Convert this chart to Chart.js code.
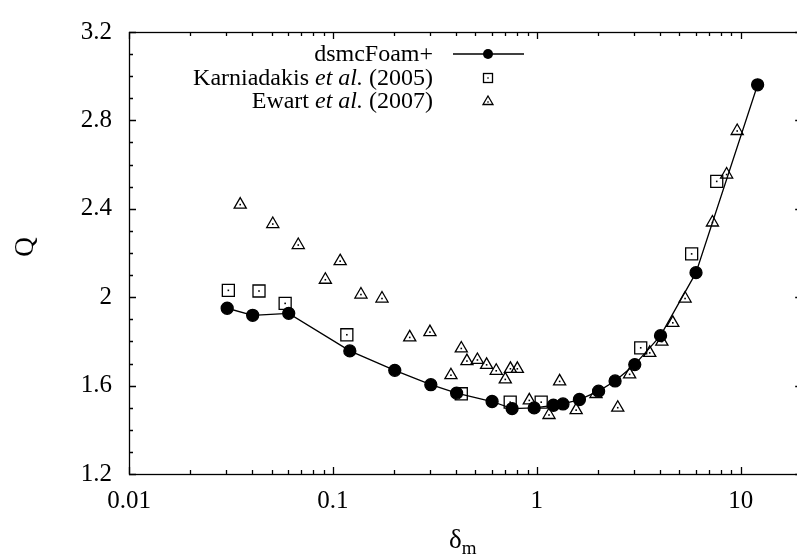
<!DOCTYPE html>
<html><head><meta charset="utf-8">
<script src="https://cdn.jsdelivr.net/npm/chart.js@4"></script>
<style>
html,body{margin:0;padding:0;overflow:hidden;background:#fff;width:797px;height:556px}
#c{position:absolute;left:0;top:0;display:block}
</style>
</head><body><canvas id="c" width="812" height="556" style="width:812px;height:556px"></canvas>
<script>
// ---- data ----
const dsmcX = [0.0303, 0.0404, 0.0607, 0.121, 0.201, 0.302, 0.404, 0.603, 0.756, 0.97, 1.205, 1.343, 1.617, 2.007, 2.418, 3.02, 4.04, 6.03, 12.09];
const dsmcQ = [1.950, 1.918, 1.927, 1.757, 1.669, 1.604, 1.566, 1.528, 1.496, 1.499, 1.511, 1.517, 1.537, 1.575, 1.621, 1.695, 1.826, 2.111, 2.961];

const karnX = [0.0307, 0.0434, 0.0583, 0.117, 0.426, 0.74, 1.05, 3.23, 5.74, 7.62];
const karnQ = [2.031, 2.028, 1.972, 1.830, 1.563, 1.525, 1.525, 1.771, 2.196, 2.524];

const ewartX = [0.0351, 0.0507, 0.0676, 0.0918, 0.1085, 0.1372, 0.174, 0.238, 0.299, 0.379, 0.426, 0.454, 0.511, 0.567, 0.632, 0.70, 0.742, 0.802, 0.918, 1.147, 1.293, 1.558, 1.949, 2.492, 2.85, 3.576, 4.10, 4.64, 5.33, 7.26, 8.52, 9.60];
const ewartQ = [2.419, 2.331, 2.236, 2.079, 2.163, 2.012, 1.994, 1.818, 1.842, 1.647, 1.768, 1.711, 1.716, 1.694, 1.667, 1.628, 1.676, 1.676, 1.533, 1.467, 1.619, 1.489, 1.562, 1.500, 1.651, 1.748, 1.799, 1.884, 1.994, 2.338, 2.555, 2.752];

const xTickValues = [0.01, 0.1, 1, 10];
const xTickLabels = ['0.01', '0.1', '1', '10'];
const yTickValues = [1.2, 1.6, 2, 2.4, 2.8, 3.2];
const yTickLabels = ['1.2', '1.6', '2', '2.4', '2.8', '3.2'];
const seriesNames = ['dsmcFoam+', 'Karniadakis', 'Ewart'];
const seriesRefs = ['', ' (2005)', ' (2007)'];
const xTitle = ['δ', 'm'];
const yTitle = 'Q';

const FONT = '"Liberation Serif", "DejaVu Serif", serif';
const pts = (xs, ys) => xs.map((x, i) => ({x: x, y: ys[i]}));

const framePlugin = {
  id: 'frame',
  afterDatasetsDraw(chart) {
    const ctx = chart.ctx, a = chart.chartArea;
    const xs = chart.scales.x, ys = chart.scales.y;
    ctx.save();
    ctx.strokeStyle = '#000';
    ctx.lineWidth = 1.3;
    ctx.beginPath();
    for (const d of [0.01, 0.1, 1, 10]) {
      for (let m = 1; m <= 9; m++) {
        const v = d * m;
        if (v > xs.max) continue;
        const px = Math.round(xs.getPixelForValue(v)) + 0.5;
        const len = m === 1 ? 7 : 4;
        ctx.moveTo(px, a.bottom); ctx.lineTo(px, a.bottom - len);
        ctx.moveTo(px, a.top); ctx.lineTo(px, a.top + len);
      }
    }
    for (let k = 12; k <= 32; k++) {
      const py = Math.round(ys.getPixelForValue(k / 10)) + 0.5;
      const len = (k % 4 === 0) ? 7 : 4;
      ctx.moveTo(a.left, py); ctx.lineTo(a.left + len, py);
      ctx.moveTo(a.right, py); ctx.lineTo(a.right - len, py);
    }
    ctx.stroke();
    ctx.strokeRect(Math.round(a.left) + 0.5, Math.round(a.top) + 0.5, Math.round(a.right - a.left), Math.round(a.bottom - a.top));

    ctx.fillStyle = '#000';
    for (const i of [1, 2]) {
      chart.getDatasetMeta(i).data.forEach(p => ctx.fillRect(p.x - 0.8, p.y - 0.8, 1.6, 1.6));
    }

    ctx.textBaseline = 'alphabetic';
    ctx.textAlign = 'left';
    ctx.font = '27px ' + FONT;
    const w1 = ctx.measureText(xTitle[0]).width;
    ctx.fillText(xTitle[0], 449, 548);
    ctx.font = '19px ' + FONT;
    ctx.fillText(xTitle[1], 449 + w1, 554);
    ctx.save();
    ctx.translate(33, 247);
    ctx.rotate(-Math.PI / 2);
    ctx.textAlign = 'center';
    ctx.font = '27px ' + FONT;
    ctx.fillText(yTitle, 0, 0);
    ctx.restore();

    const right = 433, sx0 = 453, sx1 = 524, mx = 488;
    const rows = [54, 78, 101];
    ctx.textBaseline = 'middle';
    for (let r = 0; r < 3; r++) {
      const y = rows[r] + 1;
      let segs;
      if (r === 0) segs = [[seriesNames[0], false]];
      else segs = [[seriesNames[r] + ' ', false], ['et al.', true], [seriesRefs[r], false]];
      let total = 0;
      const widths = segs.map(s => { ctx.font = (s[1] ? 'italic ' : '') + '24px ' + FONT; const w = ctx.measureText(s[0]).width; total += w; return w; });
      let x = right - total;
      ctx.textAlign = 'left';
      segs.forEach((s, i) => { ctx.font = (s[1] ? 'italic ' : '') + '24px ' + FONT; ctx.fillText(s[0], x, y); x += widths[i]; });
      const yy = rows[r];
      ctx.lineWidth = 1.3;
      if (r === 0) {
        ctx.beginPath(); ctx.moveTo(sx0, yy); ctx.lineTo(sx1, yy); ctx.stroke();
        ctx.beginPath(); ctx.arc(mx, yy, 5, 0, Math.PI * 2); ctx.fill();
      } else if (r === 1) {
        ctx.strokeRect(mx - 4.5, yy - 4.5, 9, 9);
        ctx.fillRect(mx - 0.7, yy - 0.7, 1.4, 1.4);
      } else {
        ctx.beginPath();
        ctx.moveTo(mx, yy - 5); ctx.lineTo(mx + 5, yy + 3.5); ctx.lineTo(mx - 5, yy + 3.5); ctx.closePath(); ctx.stroke();
        ctx.fillRect(mx - 0.7, yy + 0.3, 1.4, 1.4);
      }
    }
    ctx.restore();
  }
};

new Chart(document.getElementById('c'), {
  type: 'scatter',
  data: {
    datasets: [
      {label: seriesNames[0], data: pts(dsmcX, dsmcQ), showLine: true, borderColor: '#000', borderWidth: 1.3,
       pointStyle: 'circle', pointRadius: 6, backgroundColor: '#000', pointBackgroundColor: '#000', pointBorderColor: '#000', order: 3},
      {label: seriesNames[1], data: pts(karnX, karnQ), pointStyle: 'rect', pointRadius: 8.5, pointBorderWidth: 1.3,
       pointBorderColor: '#000', pointBackgroundColor: 'rgba(0,0,0,0)', borderColor: '#000', backgroundColor: 'rgba(0,0,0,0)', order: 2},
      {label: seriesNames[2], data: pts(ewartX, ewartQ), pointStyle: 'triangle', pointRadius: 7, pointBorderWidth: 1.3,
       pointBorderColor: '#000', pointBackgroundColor: 'rgba(0,0,0,0)', borderColor: '#000', backgroundColor: 'rgba(0,0,0,0)', order: 1}
    ]
  },
  options: {
    responsive: false, maintainAspectRatio: false, animation: false, devicePixelRatio: 1,
    layout: {padding: {left: 0, right: 3, top: 19, bottom: 0}},
    plugins: {legend: {display: false}, tooltip: {enabled: false}},
    scales: {
      x: {
        type: 'logarithmic', min: 0.01, max: 20,
        afterBuildTicks: s => { s.ticks = xTickValues.map(v => ({value: v, major: true})); },
        afterFit: s => { s.height = 82; },
        grid: {display: false, drawTicks: false},
        border: {display: false},
        ticks: {color: '#000', font: {family: FONT, size: 25}, padding: 12, maxRotation: 0, autoSkip: false,
                callback: (v, i) => xTickLabels[i]}
      },
      y: {
        type: 'linear', min: 1.2, max: 3.2,
        afterBuildTicks: s => { s.ticks = yTickValues.map(v => ({value: v})); },
        afterFit: s => { s.width = 129; },
        grid: {display: false, drawTicks: false},
        border: {display: false},
        ticks: {color: '#000', font: {family: FONT, size: 25}, padding: 17, autoSkip: false,
                callback: (v, i) => yTickLabels[i]}
      }
    }
  },
  plugins: [framePlugin]
});
</script>
</body></html>
